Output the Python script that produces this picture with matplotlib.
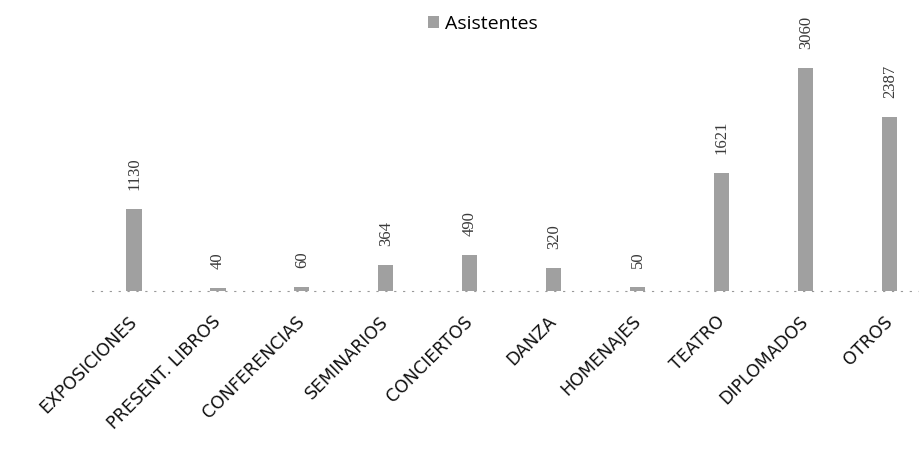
import numpy as np
import matplotlib.pyplot as plt
from matplotlib.patches import Patch

categorias = ['EXPOSICIONES', 'PRESENT. LIBROS', 'CONFERENCIAS', 'SEMINARIOS',
              'CONCIERTOS', 'DANZA', 'HOMENAJES', 'TEATRO', 'DIPLOMADOS', 'OTROS']
asistentes = [1130, 40, 60, 364, 490, 320, 50, 1621, 3060, 2387]

gris = '#a0a0a0'

fig = plt.figure(figsize=(9.2, 4.74), dpi=100)
ax = fig.add_axes([92 / 920, 1 - 291 / 474, 1 - 92 / 920, 291 / 474])

x = np.arange(len(categorias))
ax.bar(x, asistentes, width=0.18, color=gris, edgecolor='none')

for xi, v in zip(x, asistentes):
    ax.annotate(str(v), (xi, v), xytext=(0, 19), textcoords='offset pixels',
                rotation=90, ha='center', va='bottom',
                family='Liberation Serif', fontsize=12, color='#3a3a3a')

ax.set_xlim(-0.5, 9.36)
ax.set_ylim(0, 4000)
ax.set_yticks([])
ax.set_xticks(x)
ax.set_xticklabels(categorias, rotation=45, ha='right', va='center',
                   rotation_mode='anchor', family='DejaVu Sans', fontsize=12.5,
                   color='#111111')
ax.tick_params(axis='x', length=0, pad=20)

for s in ['top', 'right', 'left']:
    ax.spines[s].set_visible(False)
ax.spines['bottom'].set_linestyle((0, (1, 7)))
ax.spines['bottom'].set_color('#999999')
ax.spines['bottom'].set_linewidth(0.8)

fig.legend(handles=[Patch(facecolor=gris, edgecolor='none', label='Asistentes')],
           loc='center', bbox_to_anchor=(483 / 920, 1 - 24 / 474), frameon=False,
           prop={'family': 'Open Sans', 'size': 14}, handlelength=0.55,
           handleheight=0.55, handletextpad=0.35)

fig.savefig('out.png', dpi=100)
